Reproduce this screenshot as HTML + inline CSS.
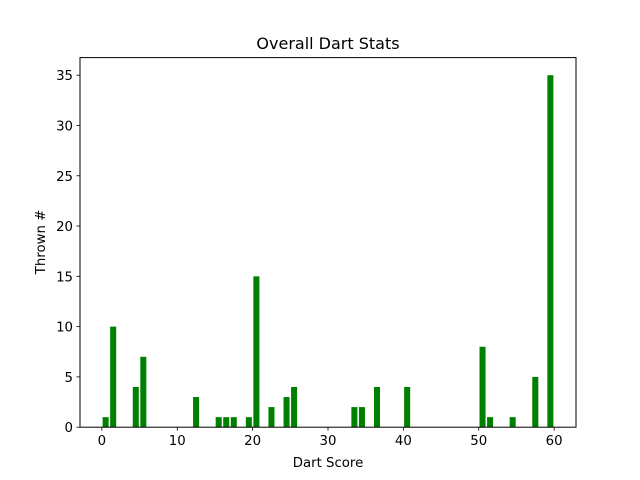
<!DOCTYPE html>
<html><head><meta charset="utf-8"><style>
html,body{margin:0;padding:0;background:#fff;}
svg{display:block;font-family:"DejaVu Sans","Liberation Sans",sans-serif;}
</style></head><body>
<svg id="chart" width="640" height="480" viewBox="0 0 640 480">
<rect width="640" height="480" fill="#fff"/>
<text x="328" y="49" font-size="16" text-anchor="middle" fill="#000">Overall Dart Stats</text>
<g id="bars"></g>
<g id="xticks"></g>
<g id="yticks"></g>
<rect x="80" y="57.6" width="496" height="369.6" fill="none" stroke="#000" stroke-width="1"/>
<text x="328" y="467" font-size="13.3" text-anchor="middle">Dart Score</text>
<text x="45" y="242" font-size="13.3" text-anchor="middle" transform="rotate(-90 45 242)">Thrown #</text>
</svg>
<script>
const scores = [0.5,1.5,4.5,5.5,12.5,15.5,16.5,17.5,19.5,20.5,22.5,24.5,25.5,33.5,34.5,36.5,40.5,50.5,51.5,54.5,57.5,59.5];
const counts = [1,10,4,7,3,1,1,1,1,15,2,3,4,2,2,4,4,8,1,1,5,35];
const xTickValues = [0,10,20,30,40,50,60];
const yTickValues = [0,5,10,15,20,25,30,35];

const NS="http://www.w3.org/2000/svg";
const L=80,R=576,T=57.6,B=427.2,BW=0.8;
const xmin=-2.9,xmax=62.9;
const ymax=Math.max(...counts)*1.05;
const sx=v=>L+(v-xmin)/(xmax-xmin)*(R-L);
const sy=v=>B-v/ymax*(B-T);
function mk(tag,attrs,parent){const e=document.createElementNS(NS,tag);for(const k in attrs)e.setAttribute(k,attrs[k]);parent.appendChild(e);return e;}
const gb=document.getElementById('bars');
scores.forEach((s,i)=>{
  const x0=sx(s-BW/2),x1=sx(s+BW/2);
  const r=mk('rect',{x:x0,y:sy(counts[i]),width:x1-x0,height:B-sy(counts[i]),fill:'#008000'},gb);
  
  
});
const gx=document.getElementById('xticks');
xTickValues.forEach(v=>{
  const x=sx(v);
  const l=mk('line',{x1:x,x2:x,y1:B,y2:B+3.5,stroke:'#000','stroke-width':0.8},gx);
  
  
  const t=mk('text',{x:x,y:B+18,'font-size':13.3,'text-anchor':'middle'},gx);
  t.textContent=v;
  
  
});
const gy=document.getElementById('yticks');
yTickValues.forEach(v=>{
  const y=sy(v);
  const l=mk('line',{x1:L-3.5,x2:L,y1:y,y2:y,stroke:'#000','stroke-width':0.8},gy);
  
  
  const t=mk('text',{x:L-7,y:y+5,'font-size':13.3,'text-anchor':'end'},gy);
  t.textContent=v;
  
  
});
</script>
</body></html>
